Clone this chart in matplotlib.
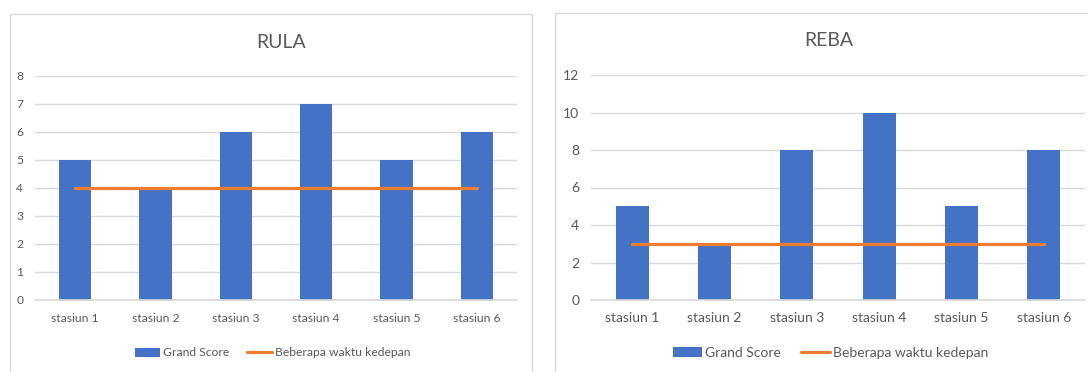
import matplotlib
matplotlib.use("Agg")
import matplotlib.pyplot as plt
from matplotlib.patches import Rectangle

plt.rcParams['font.family'] = ['Liberation Sans Narrow', 'Lato', 'DejaVu Sans']

categories = ['stasiun 1', 'stasiun 2', 'stasiun 3', 'stasiun 4', 'stasiun 5', 'stasiun 6']
rula_scores = [5, 4, 6, 7, 5, 6]
rula_target = [4, 4, 4, 4, 4, 4]
reba_scores = [5, 3, 8, 10, 5, 8]
reba_target = [3, 3, 3, 3, 3, 3]
rula_yticks = [0, 1, 2, 3, 4, 5, 6, 7, 8]
reba_yticks = [0, 2, 4, 6, 8, 10, 12]

W, H = 1088, 372
BAR = '#4472C4'
LINE = '#ED7D31'
GRID = '#D9D9D9'
TXT = '#595959'

fig = plt.figure(figsize=(W / 100, H / 100), dpi=100)
fig.patch.set_facecolor('white')


def px_axes(x0, x1, ytop, ybot):
    return fig.add_axes([x0 / W, (H - ybot) / H, (x1 - x0) / W, (ybot - ytop) / H])


def draw(ax, scores, target, yticks, fs, title, title_xy, leg_center, handlelen):
    x = list(range(len(categories)))
    bars = ax.bar(x, scores, width=0.4, color=BAR, zorder=2, label='Grand Score')
    line, = ax.plot(x, target, color=LINE, lw=2.3, zorder=3, solid_capstyle='round',
                    label='Beberapa waktu kedepan')
    ax.set_xlim(-0.5, len(categories) - 0.5)
    ax.set_ylim(yticks[0], yticks[-1])
    ax.set_yticks(yticks)
    ax.set_xticks(x)
    ax.set_xticklabels(categories)
    ax.yaxis.grid(True, color=GRID, lw=1, zorder=0)
    ax.set_axisbelow(True)
    for s in ['top', 'right', 'left']:
        ax.spines[s].set_visible(False)
    ax.spines['bottom'].set_color(GRID)
    ax.spines['bottom'].set_linewidth(1.2)
    ax.tick_params(axis='both', length=0, labelsize=fs, colors=TXT)
    ax.tick_params(axis='y', pad=8.5)
    ax.tick_params(axis='x', pad=9.0)
    fig.text(title_xy[0] / W, 1 - title_xy[1] / H, title, ha='center', va='center',
             fontsize=14, color=TXT)
    leg = ax.legend([bars, line], ['Grand Score', 'Beberapa waktu kedepan'],
                    loc='center', bbox_to_anchor=(leg_center[0] / W, 1 - leg_center[1] / H),
                    bbox_transform=fig.transFigure, ncol=2, frameon=False, fontsize=fs,
                    handlelength=handlelen, handletextpad=0.2, columnspacing=1.5,
                    borderpad=0, borderaxespad=0)
    for t in leg.get_texts():
        t.set_color(TXT)


# chart borders
fig.patches.append(Rectangle((9.5 / W, -0.05), (531.5 - 9.5) / W, 1 - 14 / H + 0.05,
                             transform=fig.transFigure, fill=False, edgecolor=GRID, lw=1))
fig.patches.append(Rectangle((555 / W, -0.05), (1095 - 555) / W, 1 - 12.5 / H + 0.05,
                             transform=fig.transFigure, fill=False, edgecolor=GRID, lw=1))

ax1 = px_axes(35, 517, 76, 300)
draw(ax1, rula_scores, rula_target, rula_yticks, 8.7, 'RULA', (281, 42), (272.5, 353), 2.1)

ax2 = px_axes(591, 1085, 75, 300)
draw(ax2, reba_scores, reba_target, reba_yticks, 10.0, 'REBA', (828.5, 41), (830.5, 353), 2.1)

fig.savefig('out.png', dpi=100, facecolor='white')
